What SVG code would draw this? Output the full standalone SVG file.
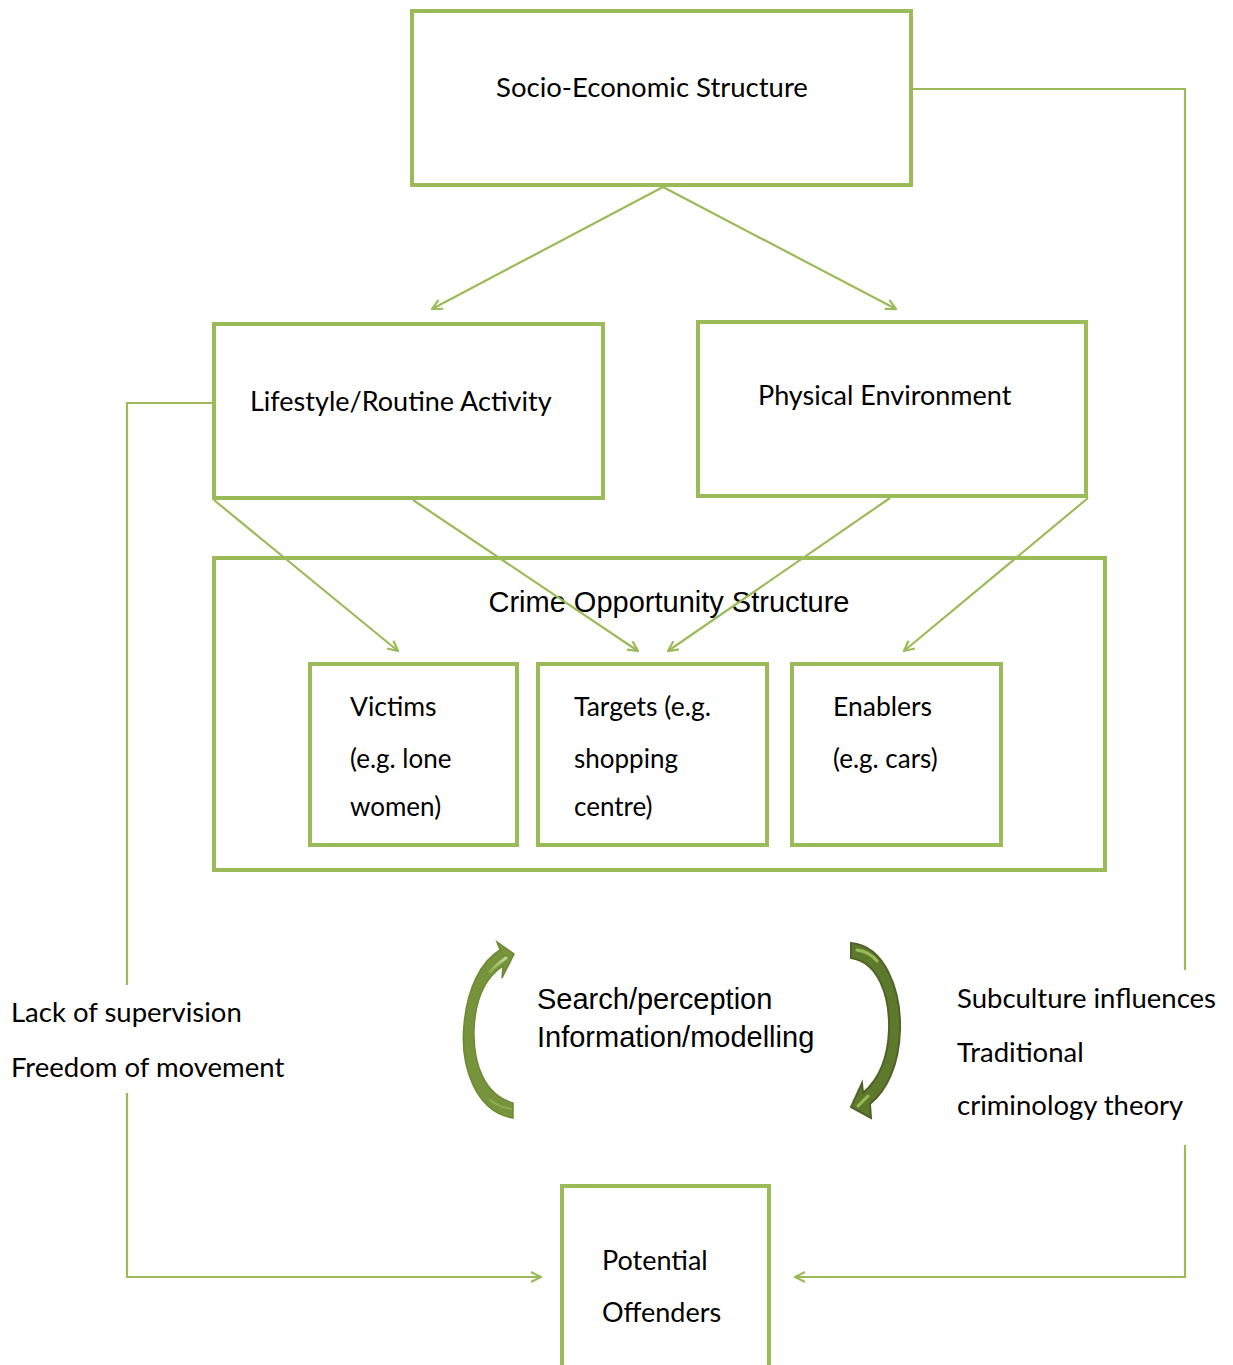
<svg xmlns="http://www.w3.org/2000/svg" width="1233" height="1365" viewBox="0 0 1233 1365">
  <defs>
    <style>
      .box { fill: #ffffff; stroke: #9bbb59; stroke-width: 4; }
      .link { fill: none; stroke: #9bbb59; stroke-width: 2.2; }
      .cal { font-family: Lato, "Open Sans", "Liberation Sans", sans-serif; fill: #000; }
      .ari { font-family: "Liberation Sans", Arial, sans-serif; fill: #000; }
    </style>
    <marker id="chev" viewBox="0 0 12 12" refX="11" refY="6" markerWidth="12" markerHeight="12" markerUnits="userSpaceOnUse" orient="auto">
      <path d="M1,1 L11,6 L1,11" fill="none" stroke="#9bbb59" stroke-width="2.2"/>
    </marker>
    <linearGradient id="hlL" x1="0" y1="1" x2="1" y2="0">
      <stop offset="0" stop-color="#8aa94a"/>
      <stop offset="1" stop-color="#c3d69b"/>
    </linearGradient>
  </defs>

  <!-- boxes drawn first so connectors sit on top of the frame -->
  <g id="socio-economic">
    <rect class="box" x="412" y="11" width="499" height="174"/>
    <text class="cal" x="652" y="97" font-size="27.5" text-anchor="middle">Socio-Economic Structure</text>
  </g>

  <g id="lifestyle">
    <rect class="box" x="214" y="324" width="389" height="174"/>
    <text class="cal" x="250" y="411" font-size="27">Lifestyle/Routine Activity</text>
  </g>

  <g id="physical">
    <rect class="box" x="698" y="322" width="388" height="174"/>
    <text class="cal" x="758" y="405" font-size="27">Physical Environment</text>
  </g>

  <g id="crime-opportunity">
    <rect class="box" x="214" y="558" width="891" height="312"/>
    <text class="ari" x="669" y="612" font-size="29" text-anchor="middle">Crime Opportunity Structure</text>
  </g>

  <g id="victims">
    <rect class="box" x="310" y="664" width="207" height="181"/>
    <text class="cal" x="350" y="716" font-size="26.5">Victims</text>
    <text class="cal" x="350" y="768" font-size="26">(e.g. lone</text>
    <text class="cal" x="350" y="816" font-size="26">women)</text>
  </g>

  <g id="targets">
    <rect class="box" x="538" y="664" width="229" height="181"/>
    <text class="cal" x="574" y="716" font-size="26.5">Targets (e.g.</text>
    <text class="cal" x="574" y="768" font-size="26">shopping</text>
    <text class="cal" x="574" y="816" font-size="26">centre)</text>
  </g>

  <g id="enablers">
    <rect class="box" x="792" y="664" width="209" height="181"/>
    <text class="cal" x="833" y="716" font-size="26.5">Enablers</text>
    <text class="cal" x="833" y="768" font-size="26">(e.g. cars)</text>
  </g>

  <g id="offenders">
    <rect class="box" x="562" y="1186" width="207" height="190"/>
    <text class="cal" x="602" y="1270" font-size="27">Potential</text>
    <text class="cal" x="602" y="1322" font-size="27">Offenders</text>
  </g>

  <g id="connectors">
    <line class="link" x1="663" y1="187" x2="432" y2="309" marker-end="url(#chev)"/>
    <line class="link" x1="663" y1="187" x2="896" y2="309" marker-end="url(#chev)"/>
    <line class="link" x1="214" y1="500" x2="398" y2="651" marker-end="url(#chev)"/>
    <line class="link" x1="413" y1="500" x2="638" y2="651" marker-end="url(#chev)"/>
    <line class="link" x1="890" y1="498" x2="668" y2="651" marker-end="url(#chev)"/>
    <line class="link" x1="1088" y1="498" x2="904" y2="651" marker-end="url(#chev)"/>
    <!-- left loop: lifestyle to offenders -->
    <polyline class="link" points="212,403 127,403 127,985"/>
    <polyline class="link" points="127,1093 127,1277 541,1277" marker-end="url(#chev)"/>
    <!-- right loop: socio-economic to offenders -->
    <polyline class="link" points="913,89 1185,89 1185,970"/>
    <polyline class="link" points="1185,1145 1185,1277 795,1277" marker-end="url(#chev)"/>
  </g>

  <g id="cycle">
    <!-- curved arrow pointing up -->
    <path d="M513,1118 C475,1112 460,1065 464,1025 C467,990 480,962 500,950 L497,942 L514,954 L502,978 L503,966 C485,978 475,1000 474,1030 C473,1065 485,1095 513,1103 Z" fill="#77933c" stroke="#6b8a33" stroke-width="1.5"/>
    <path d="M490,972 C495,966 500,962 506,958" fill="none" stroke="url(#hlL)" stroke-width="3" stroke-linecap="round"/>
    <path d="M490,1100 C498,1106 505,1108 511,1109" fill="none" stroke="#8fae4f" stroke-width="2" stroke-linecap="round"/>
    <!-- curved arrow pointing down -->
    <path d="M851,943 C885,946 901,990 900,1030 C899,1065 887,1090 870,1104 L871,1118 L851,1107 L862,1083 L863,1093 C878,1080 888,1060 889,1030 C890,995 878,962 851,958 Z" fill="#5d7a2c" stroke="#4f6228" stroke-width="2"/>
    <path d="M857,950 C865,951 872,955 877,961" fill="none" stroke="#9bbb59" stroke-width="3" stroke-linecap="round"/>
    <path d="M868,1096 C864,1100 861,1103 858,1106" fill="none" stroke="#9bbb59" stroke-width="3" stroke-linecap="round"/>
    <text class="ari" x="537" y="1009" font-size="29">Search/perception</text>
    <text class="ari" x="537" y="1047" font-size="29">Information/modelling</text>
  </g>

  <g id="left-notes">
    <text class="cal" x="11" y="1022" font-size="27.5">Lack of supervision</text>
    <text class="cal" x="11" y="1077" font-size="27.5">Freedom of movement</text>
  </g>

  <g id="right-notes">
    <text class="cal" x="957" y="1008" font-size="27.5">Subculture influences</text>
    <text class="cal" x="957" y="1062" font-size="27.5">Traditional</text>
    <text class="cal" x="957" y="1115" font-size="27.5">criminology theory</text>
  </g>
</svg>
